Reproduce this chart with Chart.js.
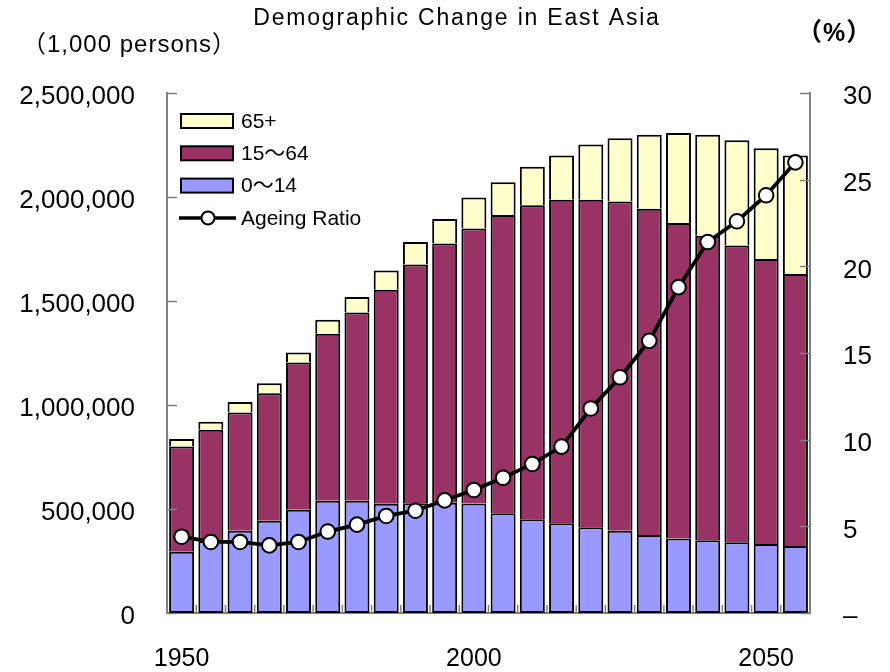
<!DOCTYPE html>
<html>
<head>
<meta charset="utf-8">
<script src="https://cdn.jsdelivr.net/npm/chart.js@4.4.1/dist/chart.umd.min.js"></script>
<style>
  html, body { margin: 0; padding: 0; background: #ffffff; }
  #wrap { width: 890px; height: 672px; position: relative; }
</style>
</head>
<body>
<div id="wrap"><canvas id="c" width="890" height="672"></canvas></div>
<script>
// ---- Data (population in 1,000 persons; ageing ratio in %) ----
const years = [1950,1955,1960,1965,1970,1975,1980,1985,1990,1995,2000,2005,2010,2015,2020,2025,2030,2035,2040,2045,2050,2055];
const age0to14 = [295000,345000,395000,443000,496000,540000,540000,525000,528000,530000,527000,480000,451000,432000,412000,395000,375000,358000,350000,340000,332000,322000];
const age15to64 = [505000,536000,569000,614000,708000,803000,905000,1029000,1147000,1246000,1322000,1434000,1509000,1555000,1575000,1583000,1568000,1517000,1464000,1427000,1370000,1308000];
const age65plus = [37000,39000,50000,48000,49000,67000,74000,93000,109000,118000,148000,157000,185000,212000,266000,304000,356000,433000,485000,506000,532000,569000];
const ageingRatio = [4.4,4.1,4.1,3.9,4.1,4.7,5.1,5.6,5.9,6.5,7.1,7.8,8.6,9.6,11.8,13.6,15.7,18.8,21.4,22.6,24.1,26.0];
const xTickLabels = ['1950','2000','2050'];
const seriesNames = ['65+', '15～64', '0～14', 'Ageing Ratio'];
const titleText = 'Demographic Change in East Asia';
const leftUnit = '（1,000 persons）';
const rightUnit = '（%）';

const FONT = '"Liberation Sans", "Noto Sans CJK JP", Arial, sans-serif';
const AXIS_GREY = '#808080';

// custom drawing: title, inward tick marks, unit labels and legend
const extras = {
  id: 'extras',
  afterDraw(chart) {
    const ctx = chart.ctx;
    const ca = chart.chartArea;
    const y = chart.scales.y, y1 = chart.scales.y1, x = chart.scales.x;
    ctx.save();
    // inward tick marks
    ctx.strokeStyle = AXIS_GREY;
    ctx.lineWidth = 1.5;
    y.ticks.forEach(t => {
      const py = Math.round(y.getPixelForValue(t.value)) + 0.5;
      ctx.beginPath(); ctx.moveTo(ca.left, py); ctx.lineTo(ca.left + 10, py); ctx.stroke();
    });
    y1.ticks.forEach(t => {
      const py = Math.round(y1.getPixelForValue(t.value)) + 0.5;
      ctx.beginPath(); ctx.moveTo(ca.right, py); ctx.lineTo(ca.right - 10, py); ctx.stroke();
    });
    for (let i = 0; i <= years.length; i++) {
      let px;
      if (i === 0) px = ca.left;
      else if (i === years.length) px = ca.right;
      else px = (x.getPixelForValue(i - 1) + x.getPixelForValue(i)) / 2;
      ctx.beginPath(); ctx.moveTo(px, ca.bottom); ctx.lineTo(px, ca.bottom - 8); ctx.stroke();
    }
    // title and unit labels
    ctx.fillStyle = '#000';
    ctx.textBaseline = 'middle';
    ctx.textAlign = 'center';
    ctx.font = '23px ' + FONT;
    try { ctx.letterSpacing = '1.8px'; } catch (e) {}
    ctx.fillText(titleText, 457, 19);
    ctx.textAlign = 'left';
    ctx.font = '24px ' + FONT;
    try { ctx.letterSpacing = '1px'; } catch (e) {}
    ctx.fillText(leftUnit, 22, 45);
    try { ctx.letterSpacing = '1px'; } catch (e) {}
    ctx.font = 'bold 25px ' + FONT;
    ctx.fillText(rightUnit, 797, 34);
    try { ctx.letterSpacing = '0px'; } catch (e) {}
    // legend
    const lx = ca.left + 14, ly0 = ca.top + 28, gap = 32.3;
    const ds = chart.data.datasets;
    const order = [2, 1, 0, 3];
    ctx.font = '21px ' + FONT;
    order.forEach((di, row) => {
      const d = ds[di];
      const cy = ly0 + row * gap;
      if (d.type === 'line') {
        ctx.strokeStyle = '#000'; ctx.lineWidth = 3.5;
        ctx.beginPath(); ctx.moveTo(lx - 2, cy); ctx.lineTo(lx + 55, cy); ctx.stroke();
        ctx.beginPath(); ctx.arc(lx + 27, cy, 6.5, 0, Math.PI * 2);
        ctx.fillStyle = '#fff'; ctx.fill();
        ctx.lineWidth = 2; ctx.stroke();
      } else {
        ctx.fillStyle = d.backgroundColor;
        ctx.fillRect(lx, cy - 7, 52, 14);
        ctx.strokeStyle = '#000'; ctx.lineWidth = 2;
        ctx.strokeRect(lx, cy - 7, 52, 14);
      }
      ctx.fillStyle = '#000';
      ctx.textAlign = 'left';
      ctx.fillText(d.label, lx + 60, cy + 1);
    });
    ctx.restore();
  }
};

const barCommon = {
  type: 'bar',
  borderColor: '#000000',
  borderSkipped: false,
  categoryPercentage: 1.0,
  barPercentage: 0.855,
  yAxisID: 'y',
  stack: 'pop',
  order: 1
};

new Chart(document.getElementById('c'), {
  data: {
    labels: years,
    datasets: [
      Object.assign({}, barCommon, { label: seriesNames[2], data: age0to14, backgroundColor: '#9999FF', borderWidth: {top: 2, left: 2, right: 2, bottom: 2} }),
      Object.assign({}, barCommon, { label: seriesNames[1], data: age15to64, backgroundColor: '#993366', borderWidth: {top: 2, left: 2, right: 2, bottom: 0} }),
      Object.assign({}, barCommon, { label: seriesNames[0], data: age65plus, backgroundColor: '#FFFFCC', borderWidth: {top: 2, left: 2, right: 2, bottom: 0} }),
      {
        type: 'line', label: seriesNames[3], data: ageingRatio, yAxisID: 'y1',
        borderColor: '#000000', borderWidth: 3.8, tension: 0,
        pointRadius: 7.3, pointBorderWidth: 2, pointBackgroundColor: '#ffffff', pointBorderColor: '#000000',
        order: 0
      }
    ]
  },
  options: {
    responsive: false,
    animation: false,
    layout: { padding: { top: 93, left: 0, right: 0, bottom: 0 } },
    plugins: {
      legend: { display: false },
      tooltip: { enabled: false },
      title: { display: false, text: titleText }
    },
    scales: {
      x: {
        stacked: true,
        grid: { display: false, drawTicks: false, tickLength: 0 },
        border: { display: true, color: AXIS_GREY, width: 2 },
        ticks: {
          autoSkip: false, maxRotation: 0, minRotation: 0, padding: 31,
          color: '#000', font: { size: 25, family: FONT },
          callback: function(v, i) { const s = String(years[i]); return xTickLabels.includes(s) ? s : ''; }
        },
        afterFit: s => { s.height = 59; }
      },
      y: {
        stacked: true, position: 'left', min: 0, max: 2500000,
        grid: { display: false, drawTicks: false, tickLength: 0 },
        border: { display: true, color: AXIS_GREY, width: 2 },
        ticks: {
          stepSize: 500000, padding: 32, labelOffset: 4, color: '#000', font: { size: 26, family: FONT },
          callback: v => Number(v).toLocaleString('en-US')
        },
        afterFit: s => { s.width = 167; }
      },
      y1: {
        position: 'right', min: 0, max: 30,
        grid: { display: false, drawTicks: false, tickLength: 0 },
        border: { display: true, color: AXIS_GREY, width: 2 },
        ticks: {
          stepSize: 5, padding: 33, labelOffset: 4, color: '#000', font: { size: 26, family: FONT },
          callback: v => (v === 0 ? '–' : String(v))
        },
        afterFit: s => { s.width = 80; }
      }
    }
  },
  plugins: [extras]
});
</script>
</body>
</html>
